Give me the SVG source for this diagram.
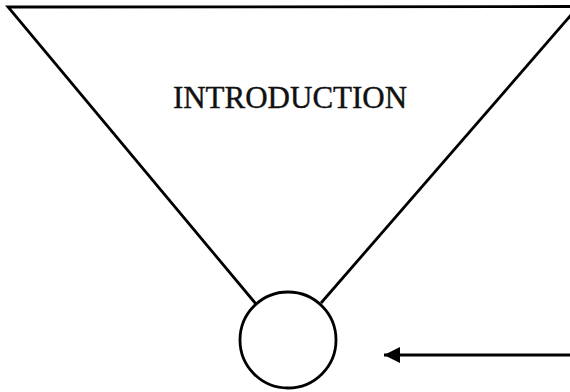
<svg xmlns="http://www.w3.org/2000/svg" width="570" height="392" viewBox="0 0 570 392">
<style>
.ln{stroke:#000;stroke-width:2.8;fill:none;stroke-linecap:butt}
.lbl{font-family:"Liberation Serif","Times New Roman",serif;font-size:31px;fill:#111;stroke:#111;stroke-width:0.4}
</style>
<defs>
<marker id="ah" markerUnits="userSpaceOnUse" markerWidth="17" markerHeight="17" refX="16" refY="8" orient="auto">
<path d="M0,0 L16,8 L0,16 z" fill="#000"/>
</marker>
</defs>
<rect width="570" height="392" fill="#fff"/>
<g id="funnel">
<path class="ln" d="M578,6.5 L8,7 L256,304"/>
<path class="ln" d="M578,7 L321,303"/>
<text class="lbl" x="290" y="108" text-anchor="middle">INTRODUCTION</text>
</g>
<g id="circle">
<circle class="ln" cx="288" cy="340" r="48"/>
</g>
<g id="connectors">
<line class="ln" x1="572" y1="355" x2="384" y2="355" marker-end="url(#ah)"/>
</g>
</svg>
